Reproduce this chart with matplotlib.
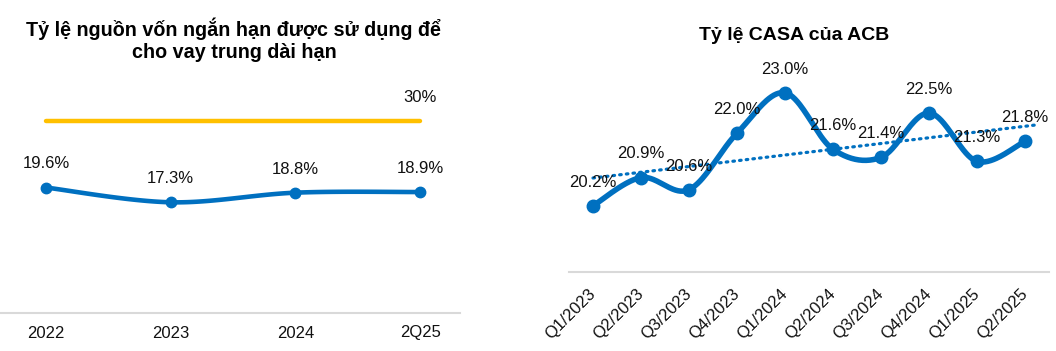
import matplotlib
matplotlib.use("Agg")
import matplotlib.pyplot as plt
import numpy as np

plt.rcParams['font.family'] = ['Liberation Sans', 'DejaVu Sans']

# ---------------- data ----------------
left_title = "Tỷ lệ nguồn vốn ngắn hạn được sử dụng để\ncho vay trung dài hạn"
left_categories = ["2022", "2023", "2024", "2Q25"]
left_values = [19.6, 17.3, 18.8, 18.9]
left_limit = [30, 30, 30, 30]
left_limit_label = "30%"

right_title = "Tỷ lệ CASA của ACB"
right_categories = ["Q1/2023", "Q2/2023", "Q3/2023", "Q4/2023", "Q1/2024",
                    "Q2/2024", "Q3/2024", "Q4/2024", "Q1/2025", "Q2/2025"]
right_values = [20.2, 20.9, 20.6, 22.0, 23.0, 21.6, 21.4, 22.5, 21.3, 21.8]

BLUE = "#0070C0"
YELLOW = "#FFC000"
GRID = "#D9D9D9"
TXT = "#111111"

W, H = 1056, 351
fig = plt.figure(figsize=(W / 100, H / 100), dpi=100)


def ax_px(x0, x1, ytop, ybot):
    return fig.add_axes([x0 / W, 1 - ybot / H, (x1 - x0) / W, (ybot - ytop) / H])


def smooth_xy(x, y, n=40):
    x = np.asarray(x, float)
    y = np.asarray(y, float)
    P = np.column_stack([x, y])
    m = len(P)
    out = []
    for i in range(m - 1):
        p0 = P[i - 1] if i > 0 else P[i]
        p1 = P[i]
        p2 = P[i + 1]
        p3 = P[i + 2] if i + 2 < m else P[i + 1]
        c1 = p1 + (p2 - p0) / 6.0
        c2 = p2 - (p3 - p1) / 6.0
        t = np.linspace(0, 1, n)[:, None]
        seg = ((1 - t) ** 3) * p1 + 3 * ((1 - t) ** 2) * t * c1 + 3 * (1 - t) * t ** 2 * c2 + t ** 3 * p2
        if i > 0:
            seg = seg[1:]
        out.append(seg)
    arr = np.vstack(out)
    return arr[:, 0], arr[:, 1]


def clean(ax):
    for s in ax.spines.values():
        s.set_visible(False)
    ax.set_yticks([])
    ax.tick_params(axis='x', length=0)
    ax.axhline(ax.get_ylim()[0], color=GRID, lw=1.5, zorder=1, clip_on=False)


LBL = 12

# ---------------- left chart ----------------
axL = ax_px(0, 460, 89, 313)
xl = np.arange(len(left_categories))
axL.set_xlim(-0.37, 3.32)
axL.set_ylim(0, 35)
axL.plot(xl, left_limit, color=YELLOW, lw=3.2, solid_capstyle='round', zorder=3)
axL.annotate(left_limit_label, (xl[-1], left_limit[-1]), xytext=(0, 17), textcoords='offset points',
             ha='center', va='center', fontsize=LBL, color=TXT)
sx, sy = smooth_xy(xl, left_values)
axL.plot(sx, sy, color=BLUE, lw=3.3, solid_capstyle='round', zorder=4)
axL.plot(xl, left_values, 'o', color=BLUE, ms=7.5, zorder=5)
for x, v in zip(xl, left_values):
    axL.annotate(f"{v:.1f}%", (x, v), xytext=(0, 17), textcoords='offset points',
                 ha='center', va='center', fontsize=LBL, color=TXT)
axL.set_xticks(xl)
axL.set_xticklabels(left_categories, fontsize=LBL, color=TXT)
axL.tick_params(axis='x', pad=9)
clean(axL)
fig.text(234 / W, 1 - 40 / H, left_title, ha='center', va='center', fontsize=14.2,
         fontweight='bold', linespacing=1.2, color='black')

# ---------------- right chart ----------------
axR = ax_px(569, 1049, 52.4, 272)
xr = np.arange(len(right_categories))
axR.set_xlim(-0.5, 9.5)
axR.set_ylim(18.56, 18.56 + 219.6 / 40.36)
coef = np.polyfit(xr, right_values, 1)
tx = np.array([0.0, 9.25])
axR.plot(tx, np.polyval(coef, tx), color=BLUE, lw=2.3, linestyle=(0, (0.5, 1.6)),
         dash_capstyle='round', zorder=3)
sx, sy = smooth_xy(xr, right_values)
axR.plot(sx, sy, color=BLUE, lw=4.0, solid_capstyle='round', zorder=4)
axR.plot(xr, right_values, 'o', color=BLUE, ms=9, zorder=5)
for x, v in zip(xr, right_values):
    axR.annotate(f"{v:.1f}%", (x, v), xytext=(0, 17), textcoords='offset points',
                 ha='center', va='center', fontsize=LBL, color=TXT, zorder=6)
axR.set_xticks(xr)
axR.set_xticklabels(right_categories, fontsize=LBL, color=TXT, rotation=45,
                    ha='right', va='center', rotation_mode='anchor')
axR.tick_params(axis='x', pad=14)
clean(axR)
fig.text(794 / W, 1 - 35 / H, right_title, ha='center', va='center', fontsize=14,
         fontweight='bold', color='black')

fig.savefig("out.png", dpi=100, facecolor='white')
